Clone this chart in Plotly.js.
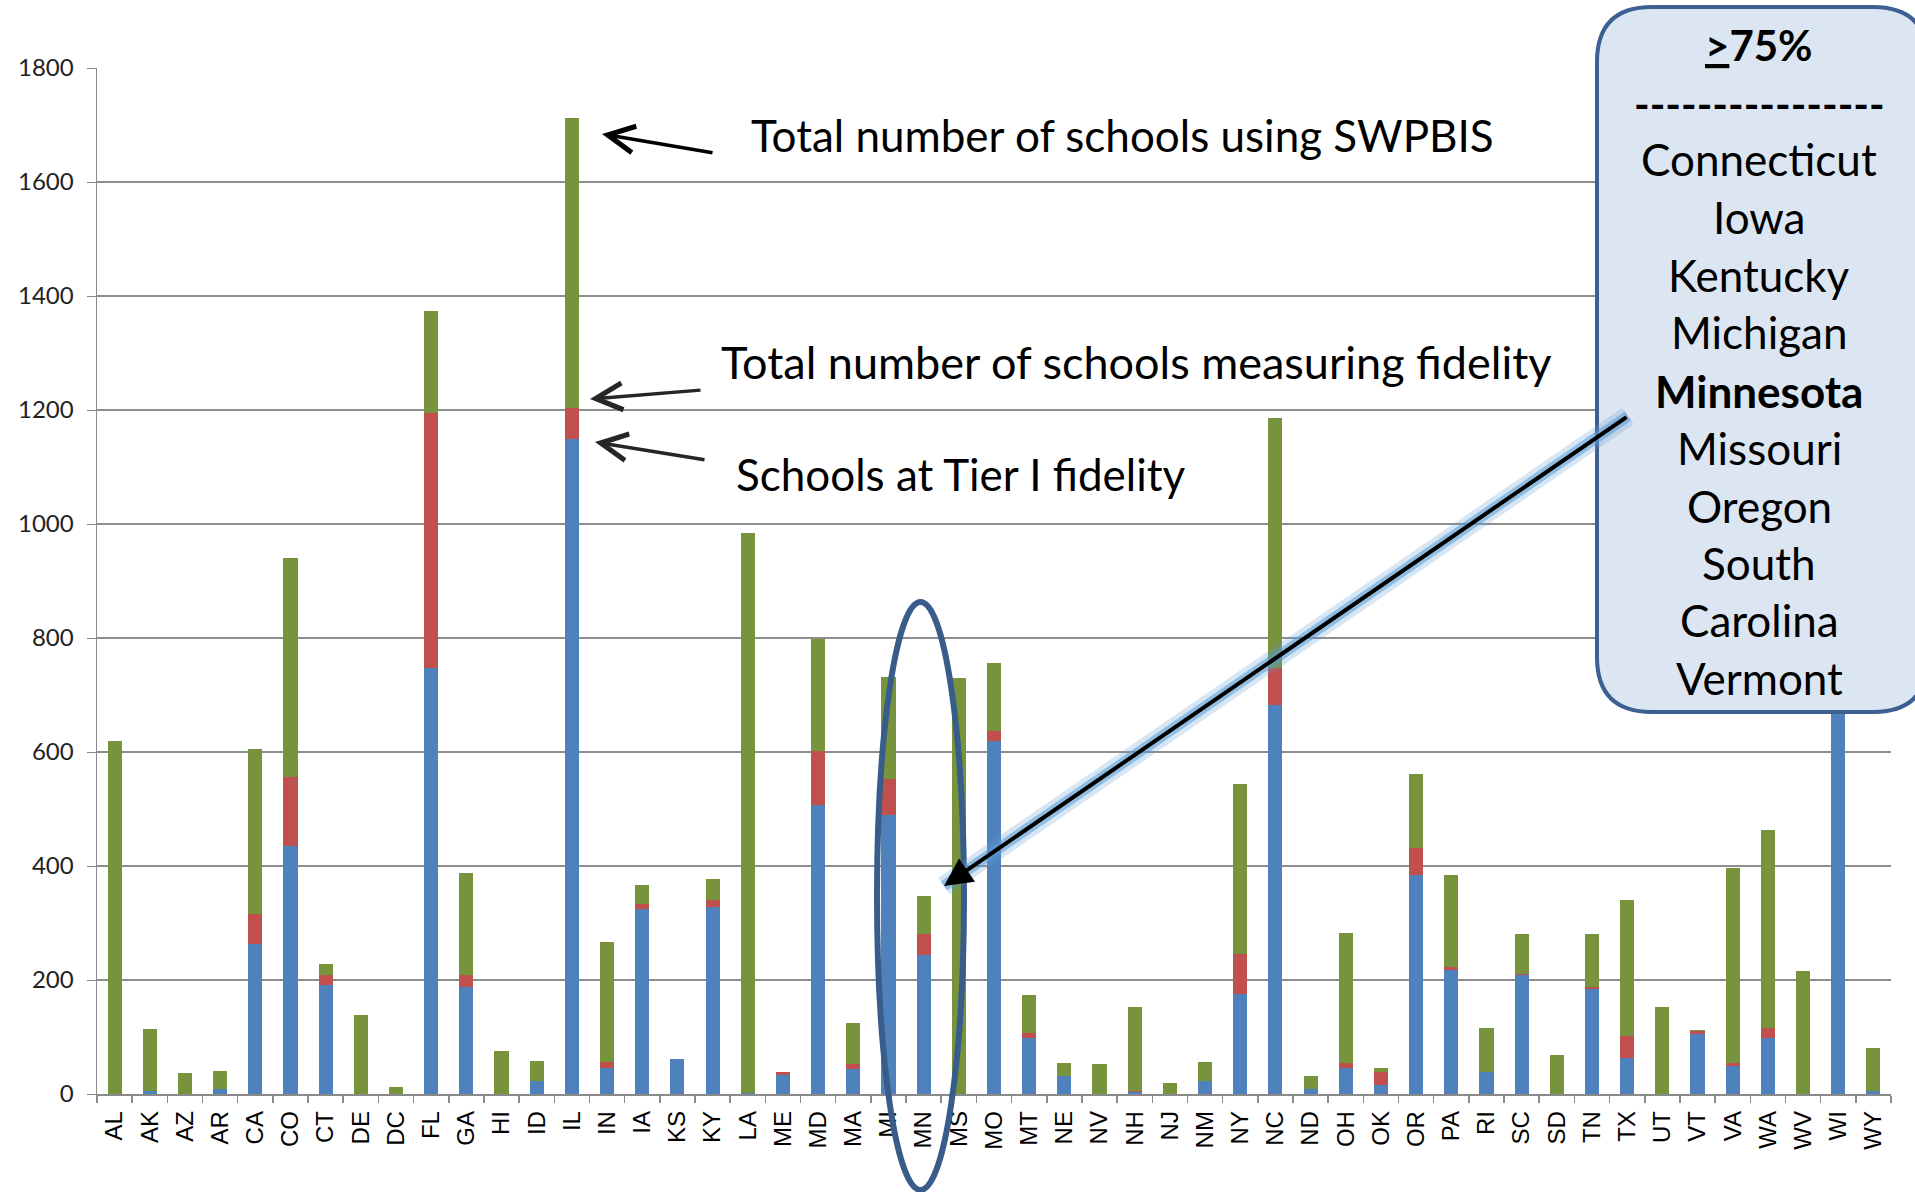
<!DOCTYPE html>
<html>
<head>
<meta charset="utf-8">
<script src="https://cdn.plot.ly/plotly-3.0.1.min.js"></script>
<style>html,body{margin:0;padding:0;background:#fff;}#chart{width:1915px;height:1192px;}</style>
</head>
<body>
<div id="chart"></div>
<script>
// ---- data ----
const states = ["AL","AK","AZ","AR","CA","CO","CT","DE","DC","FL","GA","HI","ID","IL","IN","IA","KS","KY","LA","ME","MD","MA","MI","MN","MS","MO","MT","NE","NV","NH","NJ","NM","NY","NC","ND","OH","OK","OR","PA","RI","SC","SD","TN","TX","UT","VT","VA","WA","WV","WI","WY"];
// Schools at Tier I fidelity
const tier1 = [0,5,0,8,264,435,191,0,0,747,187,0,23,1150,45,325,62,328,2,34,507,44,490,244,0,620,99,31,0,3,0,23,175,682,8,46,15,384,218,39,209,0,184,64,0,106,50,99,0,950,5];
// Total number of schools measuring fidelity
const measuring = [0,5,0,8,316,557,208,0,0,1195,208,0,23,1204,57,334,62,340,2,39,602,52,553,280,0,636,107,31,0,6,0,23,246,748,8,54,39,431,222,39,211,0,188,101,0,110,54,116,0,990,5];
// Total number of schools using SWPBIS
const total = [620,114,37,41,605,940,228,138,13,1373,388,75,58,1712,267,366,62,378,984,39,799,125,732,347,730,757,173,54,52,152,19,57,543,1186,32,282,46,562,384,116,280,68,280,340,152,112,396,463,215,1050,80];
const yTicks = [0,200,400,600,800,1000,1200,1400,1600,1800];
const calloutTitle = "<b><u>&gt;</u>75%</b>";
const calloutRule = "<b>----------------</b>";
const calloutStates = ["Connecticut","Iowa","Kentucky","Michigan","<b>Minnesota</b>","Missouri","Oregon","South","Carolina","Vermont"];
const labelUsing = "Total number of schools using SWPBIS";
const labelMeasuring = "Total number of schools measuring fidelity";
const labelTier = "Schools at Tier I fidelity";

// ---- stacked segments ----
const segRed = measuring.map((m,i)=>m - tier1[i]);
const segGreen = total.map((t,i)=>t - measuring[i]);

const BLUE="#4f81bd", RED="#c0504d", GREEN="#77933c";

const traces = [
  {type:"bar", x:states, y:tier1, marker:{color:BLUE}, name:"Tier I", hoverinfo:"x+y"},
  {type:"bar", x:states, y:segRed, marker:{color:RED}, name:"Measuring", hoverinfo:"x+y"},
  {type:"bar", x:states, y:segGreen, marker:{color:GREEN}, name:"Using", hoverinfo:"x+y"}
];

// plot-area geometry in pixels
const L=97, T=68, W=1794, H=1026;
const fx = p => (p-L)/W;
const fy = p => (T+H-p)/H;

function roundRect(x0,y0,x1,y1,r){
  const P=(x,y)=>fx(x)+","+fy(y);
  return "M"+P(x0+r,y0)+" L"+P(x1-r,y0)+" Q"+P(x1,y0)+" "+P(x1,y0+r)+
         " L"+P(x1,y1-r)+" Q"+P(x1,y1)+" "+P(x1-r,y1)+
         " L"+P(x0+r,y1)+" Q"+P(x0,y1)+" "+P(x0,y1-r)+
         " L"+P(x0,y0+r)+" Q"+P(x0,y0)+" "+P(x0+r,y0)+" Z";
}

const shapes = [
  // ellipse around MN
  {type:"circle", xref:"paper", yref:"paper", x0:fx(877), x1:fx(964), y0:fy(1190), y1:fy(602),
   line:{color:"#385d8a", width:6}, fillcolor:"rgba(0,0,0,0)", layer:"above"},
  // callout box
  {type:"path", xref:"paper", yref:"paper", path:roundRect(1597,7,1928,712,55),
   fillcolor:"#dce6f2", line:{color:"#3b6091", width:4}, layer:"above"},
  // glow of long arrow
  {type:"line", xref:"paper", yref:"paper", x0:fx(1628), y0:fy(416), x1:fx(944), y1:fy(886),
   line:{color:"rgba(91,155,213,0.25)", width:20}, layer:"above"},
  {type:"line", xref:"paper", yref:"paper", x0:fx(1628), y0:fy(416), x1:fx(944), y1:fy(886),
   line:{color:"rgba(91,155,213,0.55)", width:11}, layer:"above"}
];

const TXT_FONT = "Lato, 'Open Sans', sans-serif";
const annotations = [];
function txt(text, x, y, size, anchor){
  annotations.push({xref:"paper", yref:"paper", x:fx(x), y:fy(y), text:text, showarrow:false,
    xanchor:anchor||"center", yanchor:"middle", font:{family:TXT_FONT, size:size, color:"#000"}});
}
function arrow(tx,ty,hx,hy,color,width,head,size){
  annotations.push({xref:"paper", yref:"paper", x:fx(hx), y:fy(hy), ax:tx-hx, ay:ty-hy, text:"",
    showarrow:true, arrowcolor:color, arrowwidth:width, arrowhead:head, arrowsize:size, standoff:0, startstandoff:0});
}
txt(labelUsing, 749, 135, 44, "left");
txt(labelMeasuring, 719, 362, 45, "left");
txt(labelTier, 734, 474, 44, "left");
arrow(714,153,602,134,"#000",3.5,5,1.5);
arrow(702,390,590,399,"#262626",3.5,5,1.5);
arrow(706,460,595,442,"#262626",3.5,5,1.5);
arrow(1628,416,944,886,"#000",4,2,1.4);

txt(calloutTitle, 1759, 45, 42);
txt(calloutRule, 1759, 104, 42);
const boxY = [159,217,275,332,391,448,506,563,620,678];
calloutStates.forEach((s,i)=>txt(s, 1759, boxY[i], 44));

const layout = {
  width:1915, height:1192,
  margin:{l:L, r:1915-L-W, t:T, b:1192-T-H, pad:0},
  paper_bgcolor:"#fff", plot_bgcolor:"#fff",
  barmode:"stack", bargap:0.6, showlegend:false,
  font:{family:"'Liberation Sans', Arial, sans-serif", color:"#000"},
  xaxis:{type:"category", tickangle:-90, tickfont:{size:24, family:"'Liberation Sans', Arial, sans-serif"},
    showline:true, linecolor:"#8a8a8a", linewidth:1.5, ticks:"outside", tickson:"boundaries",
    ticklen:7, tickcolor:"#8a8a8a", tickwidth:1.5, showgrid:false, zeroline:false, ticklabelstandoff:6, fixedrange:true},
  yaxis:{range:[0,1800], tickvals:yTicks, ticktext:yTicks.map(String),
    tickfont:{size:24, family:"Lato, 'Liberation Sans', sans-serif", color:"#222"},
    showline:true, linecolor:"#8a8a8a", linewidth:1.5, ticks:"outside", ticklen:9, tickcolor:"#8a8a8a",
    showgrid:true, gridcolor:"#8e8e8e", gridwidth:1.2, zeroline:false, ticklabelstandoff:8, fixedrange:true},
  shapes:shapes,
  annotations:annotations
};

Plotly.newPlot("chart", traces, layout, {staticPlot:true, displayModeBar:false});
</script>
</body>
</html>
